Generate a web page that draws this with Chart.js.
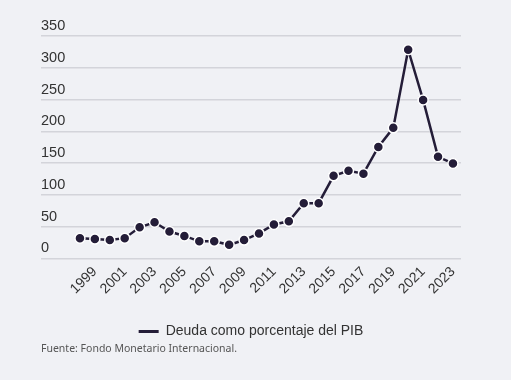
<!DOCTYPE html>
<html>
<head>
<meta charset="utf-8">
<script src="https://cdn.jsdelivr.net/npm/chart.js@4"></script>
<style>
  html, body { margin: 0; padding: 0; background: #f0f1f5; }
  #wrap { width: 511px; height: 380px; position: relative; }
</style>
</head>
<body>
<div id="wrap"><canvas id="chart"></canvas></div>
<script>
const years = [1998, 1999, 2000, 2001, 2002, 2003, 2004, 2005, 2006, 2007, 2008, 2009, 2010,
  2011, 2012, 2013, 2014, 2015, 2016, 2017, 2018, 2019, 2020, 2021, 2022, 2023];
const deuda = [32, 30.5, 29, 32, 49, 57, 42.5, 35.5, 27, 27, 21.5, 29, 39.5,
  53.5, 58.5, 87, 87, 130, 138, 133.5, 175.5, 205.5, 328.5, 249.5, 160, 149.5];
const tickYears = [1999, 2001, 2003, 2005, 2007, 2009, 2011, 2013, 2015, 2017, 2019, 2021, 2023];

const LINE = "#241d38";
const TEXT = "#333333";

const CHART = document.getElementById("chart").getContext("2d");

let points = years.map(function (y, i) {
    return { x: y, y: deuda[i] };
});

let lineChart = new Chart(CHART, {
    type: "line",
    data: {
        datasets: [
            {
                label: "Deuda como porcentaje del PIB",
                data: points,
                borderColor: LINE,
                backgroundColor: LINE,
                borderWidth: 2.5,
                tension: 0,
                pointRadius: 5,
                pointHoverRadius: 5,
                pointBackgroundColor: LINE,
                pointBorderColor: "#ffffff",
                pointBorderWidth: 1.5,
            }
        ],
    },
    options: {
        responsive: true,
        maintainAspectRatio: false,
        animation: false,
        layout: {
            padding: { top: 36, left: 41, right: 50, bottom: 25 },
        },
        scales: {
            x: {
                type: "linear",
                min: 1995.39,
                max: 2023.54,
                grid: { display: false, drawTicks: false },
                border: { display: false },
                afterBuildTicks: function (scale) {
                    scale.ticks = tickYears.map(function (v) { return { value: v }; });
                },
                afterFit: function (scale) {
                    scale.height += 9;
                },
                ticks: {
                    autoSkip: false,
                    minRotation: 45,
                    maxRotation: 45,
                    padding: 5,
                    color: TEXT,
                    font: { family: "Liberation Sans", size: 14 },
                    callback: function (value) { return String(value); },
                },
            },
            y: {
                min: 0,
                max: 350,
                grid: { color: "#d3d4da", lineWidth: 1.5, drawTicks: false },
                border: { display: false },
                ticks: {
                    stepSize: 50,
                    mirror: true,
                    padding: 0,
                    labelOffset: -10,
                    color: TEXT,
                    font: { family: "Liberation Sans", size: 14.5 },
                },
            },
        },
        plugins: {
            tooltip: { enabled: false },
            legend: {
                position: "bottom",
                labels: {
                    boxWidth: 20,
                    boxHeight: 3,
                    color: TEXT,
                    padding: 13,
                    font: { family: "Liberation Sans", size: 14 },
                    generateLabels: function (chart) {
                        return Chart.defaults.plugins.legend.labels.generateLabels(chart).map(function (item) {
                            item.lineWidth = 0;
                            item.fillStyle = LINE;
                            return item;
                        });
                    },
                },
            },
            subtitle: {
                display: true,
                position: "bottom",
                align: "start",
                text: "Fuente: Fondo Monetario Internacional.",
                color: "#555555",
                font: { family: "Noto Sans", size: 10.5 },
                padding: { top: -6, bottom: 0 },
            },
        },
    },
});
</script>
</body>
</html>
